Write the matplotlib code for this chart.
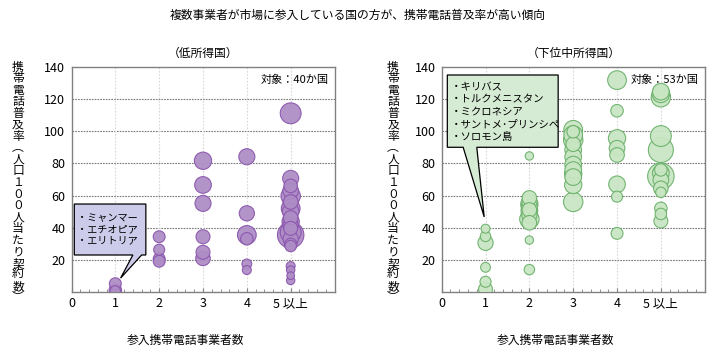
import matplotlib
matplotlib.use('Agg')
import matplotlib.pyplot as plt
from matplotlib.patches import Polygon
from matplotlib.ticker import MultipleLocator

plt.rcParams['font.family'] = ['Noto Sans CJK JP', 'DejaVu Sans']

W, H = 716, 357

title = '複数事業者が市場に参入している国の方が、携帯電話普及率が高い傾向'
panel_titles = ['（低所得国）', '（下位中所得国）']
x_label = '参入携帯電話事業者数'
y_label = '携帯電話普及率︵人口１００人当たり契約数︶'
x_ticks = [0, 1, 2, 3, 4, 5]
x_ticklabels = ['0', '1', '2', '3', '4', '5 以上']
y_ticks = [20, 40, 60, 80, 100, 120, 140]
targets = ['対象：40か国', '対象：53か国']
low_note = ['・ミャンマー', '・エチオピア', '・エリトリア']
mid_note = ['・キリバス', '・トルクメニスタン', '・ミクロネシア', '・サントメ･プリンシペ', '・ソロモン島']

# low income countries: operators, penetration, bubble weight
low_x = [1, 1, 1,
         2, 2, 2, 2,
         3, 3, 3, 3, 3, 3,
         4, 4, 4, 4, 4, 4,
         5, 5, 5, 5, 5, 5, 5, 5, 5, 5, 5, 5, 5, 5, 5, 5, 5, 5, 5, 5, 5]
low_y = [5, 1, 0.5,
         34.3, 26.2, 20.5, 19.0,
         81.7, 66.6, 55.1, 34.3, 24.6, 20.8,
         84.2, 48.9, 35.4, 33, 17.3, 13.5,
         111.3, 70.7, 66, 63, 59.7, 56, 52, 50, 46, 43.7, 41.6, 39.5, 37,
         35.4, 32.9, 29.5, 28.5, 16, 13.5, 10, 7]
low_w = [5.7, 6, 5,
         5.7, 5.3, 5.7, 5.7,
         8.3, 8, 7.7, 6.7, 6.7, 7,
         7.7, 7.3, 9, 6, 4.7, 4.3,
         10, 7.7, 6.5, 7.5, 9.3, 7, 9, 8, 7, 8.3, 7.3, 6.7, 10,
         12.7, 7.3, 6, 5.5, 4.3, 4, 3.7, 4]

# lower middle income countries
mid_x = [1, 1, 1, 1, 1, 1,
         2, 2, 2, 2, 2, 2, 2, 2, 2, 2, 2, 2,
         3, 3, 3, 3, 3, 3, 3, 3, 3, 3, 3, 3, 3,
         4, 4, 4, 4, 4, 4, 4, 4,
         5, 5, 5, 5, 5, 5, 5, 5, 5, 5, 5, 5, 5, 5]
mid_y = [39.3, 34.5, 30.5, 15.2, 6.2, 1.5,
         84.7, 58.5, 56.2, 54.5, 53, 51, 50.5, 47.8, 45.3, 43, 32.2, 13.8,
         101, 99.8, 97.7, 94.6, 92, 88.4, 84.2, 79.3, 75.9, 73.5, 71.5, 66.6, 56,
         132, 112.9, 95.7, 89.5, 85.3, 67, 59.3, 36.4,
         124.8, 123.5, 121.3, 97.1, 88.4, 76, 74, 72, 69.7, 64.5, 62, 52, 48.5, 44.1]
mid_w = [4.3, 5, 7.3, 4.7, 5.3, 6.7,
         4, 7, 7.3, 8.3, 7.7, 7, 8, 7.3, 9.3, 7, 4, 5,
         9, 6, 9, 9.3, 7, 8, 8, 8, 8, 8.3, 8, 8.3, 9.3,
         9, 6, 8.3, 7.5, 7, 8, 5.3, 5.7,
         8, 8.5, 9.3, 10, 12, 6, 8, 12.7, 7.5, 7, 5, 6, 5.5, 6.7]

fig = plt.figure(figsize=(W / 100, H / 100), dpi=100)


def fx(px):
    return px / W


def fy(py):
    return 1 - py / H


def draw_panel(left, xs, ys, ws, face, edge, target):
    ax = fig.add_axes([fx(left), fy(291.7), fx(263), fy(67.3) - fy(291.7)])
    ax.set_xlim(0, 6)
    ax.set_ylim(0, 140)
    for v in y_ticks[:-1]:
        ax.axhline(v, color='#7a7a7a', lw=0.8, ls=(0, (1.5, 1)), zorder=1)
    for v in x_ticks[1:]:
        ax.axvline(v, color='#d8d8d8', lw=0.8, ls=(0, (1.5, 1.5)), zorder=1)
    order = sorted(range(len(xs)), key=lambda i: -ws[i])
    ax.scatter([xs[i] for i in order], [ys[i] for i in order],
               s=[(1.5 * ws[i]) ** 2 for i in order],
               facecolor=face, edgecolor=edge, linewidth=0.8, alpha=0.93, zorder=3)
    ax.set_xticks(x_ticks)
    ax.set_xticklabels(x_ticklabels, fontsize=9)
    ax.xaxis.set_minor_locator(MultipleLocator(0.2))
    ax.tick_params(axis='x', which='both', direction='in', color='#808080', pad=4)
    ax.tick_params(axis='x', which='major', length=3)
    ax.tick_params(axis='x', which='minor', length=2)
    ax.set_yticks(y_ticks)
    ax.set_yticklabels([str(v) for v in y_ticks], fontsize=9)
    ax.tick_params(axis='y', length=0, pad=4.5)
    for sp in ax.spines.values():
        sp.set_color('#808080')
        sp.set_linewidth(1)
    ax.text(0.977, 0.943, target, transform=ax.transAxes, ha='right', va='center', fontsize=8)
    return ax


def callout(ax, box, base, tip, lines, face, x_text, y_lines, size):
    x0, x1, y0, y1 = box
    pts = [(x0, y1), (x1, y1), (x1, y0), (base[1], y0), tip, (base[0], y0), (x0, y0)]
    ax.add_patch(Polygon(pts, closed=True, facecolor=face, edgecolor='black',
                         linewidth=0.9, zorder=5, clip_on=False))
    for t, yv in zip(lines, y_lines):
        ax.text(x_text, yv, t, ha='left', va='center', fontsize=size, zorder=6)


ax1 = draw_panel(71.5, low_x, low_y, low_w, '#ae8cc5', '#8a55ad', targets[0])
ax2 = draw_panel(441.7, mid_x, mid_y, mid_w, '#c9e6c3', '#69b069', targets[1])

callout(ax1, (0.064, 1.696, 22.9, 54.7), (1.40, 1.60), (1.12, 8.5),
        low_note, '#ccccea', 0.13, [46.0, 39.2, 32.0], 7.3)
callout(ax2, (0.128, 2.657, 90.1, 135.2), (0.49, 0.80), (0.97, 46.6),
        mid_note, '#d6ebd4', 0.2, [127.6, 120.0, 112.3, 104.4, 96.7], 7.5)

fig.text(fx(358), fy(15), title, ha='center', va='center', fontsize=8.5)
fig.text(fx(202.7), fy(53), panel_titles[0], ha='center', va='center', fontsize=8.5)
fig.text(fx(573.3), fy(53), panel_titles[1], ha='center', va='center', fontsize=8.5)
fig.text(fx(186), fy(340), x_label, ha='center', va='center', fontsize=8.5)
fig.text(fx(556), fy(340), x_label, ha='center', va='center', fontsize=8.5)

# vertical y label, one upright character per row
n = len(y_label)
for xc in (18, 393):
    for i, ch in enumerate(y_label):
        yc = 67 + i * (298 - 67) / (n - 1)
        fig.text(fx(xc), fy(yc), ch, ha='center', va='center', fontsize=8.5)

fig.savefig('out.png', dpi=100)
